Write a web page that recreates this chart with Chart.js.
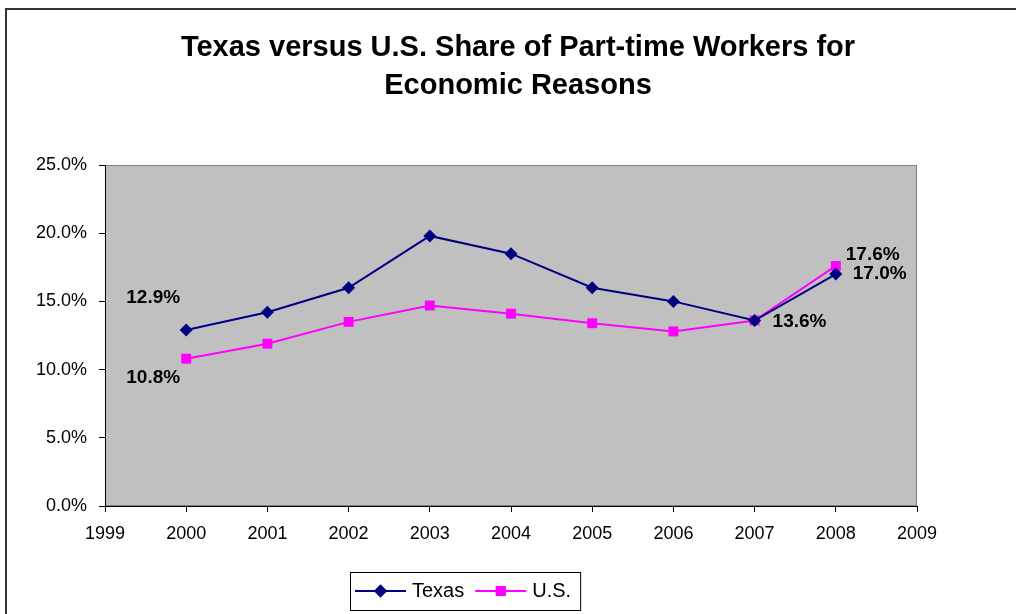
<!DOCTYPE html>
<html>
<head>
<meta charset="utf-8">
<script src="https://cdn.jsdelivr.net/npm/chart.js@4/dist/chart.umd.min.js"></script>
<style>
  html, body { margin: 0; padding: 0; background: #ffffff; }
  #wrap { position: relative; width: 1016px; height: 614px; }
</style>
</head>
<body>
<div id="wrap"><canvas id="c" width="1016" height="614"></canvas></div>
<script>
// ---- data ----
const years = [2000, 2001, 2002, 2003, 2004, 2005, 2006, 2007, 2008];
const texasValues = [12.9, 14.2, 16.0, 19.8, 18.5, 16.0, 15.0, 13.6, 17.0];
const usValues = [10.8, 11.9, 13.5, 14.7, 14.1, 13.4, 12.8, 13.6, 17.6];
const seriesNames = ['Texas', 'U.S.'];
const titleLines = ['Texas versus U.S. Share of Part-time Workers for', 'Economic Reasons'];
const yearMin = 1999, yearMax = 2009;
const pctMin = 0, pctMax = 25, pctStep = 5;

// which points carry value labels: [datasetIndex, pointIndex, dx, dy, align]
const labelSpots = [
  [0, 0, -33, -32, 'center'],
  [1, 0, -33, 19, 'center'],
  [0, 7, 18, 1, 'left'],
  [1, 8, 10, -11, 'left'],
  [0, 8, 17, 0, 'left']
];

const FONT = '"Liberation Sans", Arial, sans-serif';

const frame = {
  id: 'frame',
  beforeDraw(chart) {
    const { ctx, chartArea: a } = chart;
    ctx.save();
    ctx.fillStyle = '#ffffff';
    ctx.fillRect(0, 0, chart.width, chart.height);
    // outer frame (top and left visible)
    ctx.strokeStyle = '#333333';
    ctx.lineWidth = 2;
    ctx.beginPath();
    ctx.moveTo(6, chart.height);
    ctx.lineTo(6, 9);
    ctx.lineTo(chart.width, 9);
    ctx.stroke();
    // plot area
    ctx.fillStyle = '#C0C0C0';
    ctx.fillRect(a.left, a.top, a.right - a.left, a.bottom - a.top);
    ctx.strokeStyle = '#808080';
    ctx.lineWidth = 1;
    ctx.strokeRect(a.left + 0.5, a.top + 0.5, a.right - a.left - 1, a.bottom - a.top - 1);
    // title
    ctx.fillStyle = '#000000';
    ctx.font = 'bold 29px ' + FONT;
    ctx.textAlign = 'center';
    ctx.textBaseline = 'middle';
    titleLines.forEach((t, i) => ctx.fillText(t, 518, 48 + i * 38));
    ctx.restore();
  }
};

const valueLabels = {
  id: 'valueLabels',
  afterDatasetsDraw(chart) {
    const ctx = chart.ctx;
    ctx.save();
    ctx.font = 'bold 19px ' + FONT;
    ctx.fillStyle = '#000000';
    ctx.textBaseline = 'middle';
    labelSpots.forEach(([ds, i, dx, dy, align]) => {
      const pt = chart.getDatasetMeta(ds).data[i];
      const v = chart.data.datasets[ds].data[i].y;
      ctx.textAlign = align;
      ctx.fillText(v.toFixed(1) + '%', pt.x + dx, pt.y + dy);
    });
    ctx.restore();
  }
};

const boxLegend = {
  id: 'boxLegend',
  afterDraw(chart) {
    const ctx = chart.ctx;
    ctx.save();
    ctx.font = '20px ' + FONT;
    const lineLen = 51, gap = 6, itemGap = 11, padL = 5, padR = 9;
    const items = chart.data.datasets.map(d => ({ d, w: lineLen + gap + ctx.measureText(d.label).width }));
    const total = items.reduce((s, it) => s + it.w, 0) + itemGap * (items.length - 1) + padL + padR;
    const cx = 465.5, top = 572, h = 38;
    let x = Math.round(cx - total / 2);
    ctx.strokeStyle = '#000000';
    ctx.lineWidth = 1;
    ctx.strokeRect(x + 0.5, top + 0.5, total, h);
    x += padL;
    const y = top + h / 2;
    items.forEach(({ d, w }) => {
      ctx.strokeStyle = d.borderColor;
      ctx.lineWidth = d.borderWidth;
      ctx.beginPath();
      ctx.moveTo(x, y);
      ctx.lineTo(x + lineLen, y);
      ctx.stroke();
      ctx.fillStyle = d.pointBackgroundColor;
      Chart.helpers.drawPoint(ctx, { pointStyle: d.pointStyle, radius: d.pointRadius, borderWidth: 0, rotation: 0 }, x + lineLen / 2, y);
      ctx.fill();
      ctx.fillStyle = '#000000';
      ctx.textAlign = 'left';
      ctx.textBaseline = 'middle';
      ctx.fillText(d.label, x + lineLen + gap, y);
      x += w + itemGap;
    });
    ctx.restore();
  }
};

const toPoints = vals => years.map((yr, i) => ({ x: yr, y: vals[i] }));

new Chart(document.getElementById('c'), {
  type: 'line',
  data: {
    datasets: [
      {
        label: seriesNames[0],
        data: toPoints(texasValues),
        borderColor: '#000080',
        backgroundColor: '#000080',
        pointBackgroundColor: '#000080',
        pointBorderColor: '#000080',
        borderWidth: 2,
        pointStyle: 'rectRot',
        pointRadius: 6.5,
        pointBorderWidth: 0,
        tension: 0
      },
      {
        label: seriesNames[1],
        data: toPoints(usValues),
        borderColor: '#FF00FF',
        backgroundColor: '#FF00FF',
        pointBackgroundColor: '#FF00FF',
        pointBorderColor: '#FF00FF',
        borderWidth: 2,
        pointStyle: 'rect',
        pointRadius: 7,
        pointBorderWidth: 0,
        tension: 0
      }
    ]
  },
  options: {
    responsive: false,
    animation: false,
    devicePixelRatio: 1,
    layout: { padding: { left: 0, right: 99, top: 165, bottom: 0 } },
    plugins: {
      legend: { display: false },
      tooltip: { enabled: false },
      title: { display: false }
    },
    scales: {
      x: {
        type: 'linear',
        min: yearMin,
        max: yearMax,
        afterFit(s) { s.height = 108; },
        ticks: {
          stepSize: 1,
          color: '#000000',
          font: { family: FONT, size: 18 },
          padding: 11,
          maxRotation: 0,
          callback: v => String(v)
        },
        grid: { drawOnChartArea: false, drawTicks: true, tickLength: 6, color: '#000000' },
        border: { display: true, color: '#000000', width: 1 }
      },
      y: {
        min: pctMin,
        max: pctMax,
        afterFit(s) { s.width = 105; },
        ticks: {
          stepSize: pctStep,
          color: '#000000',
          font: { family: FONT, size: 18 },
          padding: 12,
          callback: v => Number(v).toFixed(1) + '%'
        },
        grid: { drawOnChartArea: false, drawTicks: true, tickLength: 6, color: '#000000' },
        border: { display: true, color: '#000000', width: 1 }
      }
    }
  },
  plugins: [frame, valueLabels, boxLegend]
});
</script>
</body>
</html>
